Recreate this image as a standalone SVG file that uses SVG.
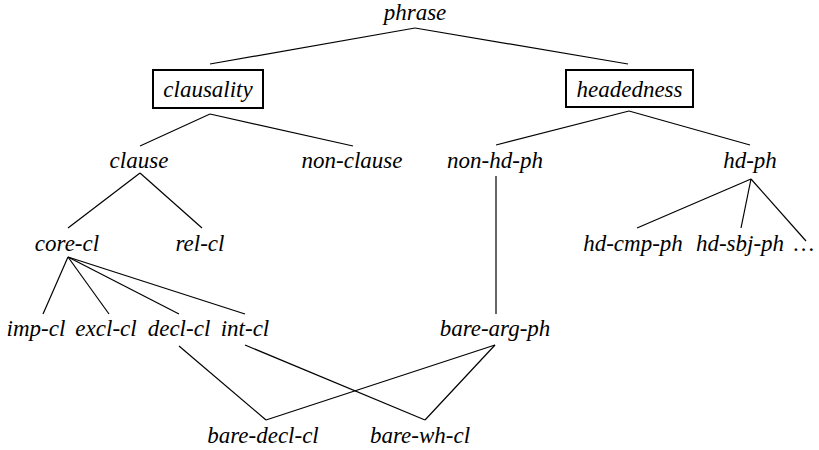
<svg xmlns="http://www.w3.org/2000/svg" width="819" height="450" viewBox="0 0 819 450">
<style>
text{font-family:'Liberation Serif','Times New Roman',serif;font-style:italic;font-size:23px;fill:#000;text-anchor:middle}
.box{fill:none;stroke:#000;stroke-width:2}
#edges line{stroke:#000;stroke-width:1.2}
</style>
<rect width="819" height="450" fill="#fff"/>
<g id="edges">
<line x1="415" y1="28" x2="210" y2="64"/>
<line x1="415" y1="28" x2="628" y2="64"/>
<line x1="210" y1="114" x2="140" y2="146"/>
<line x1="210" y1="114" x2="353" y2="146"/>
<line x1="629" y1="111" x2="496" y2="145"/>
<line x1="629" y1="111" x2="750" y2="145"/>
<line x1="140" y1="173" x2="68" y2="228"/>
<line x1="140" y1="173" x2="202" y2="228"/>
<line x1="751" y1="179" x2="637" y2="228"/>
<line x1="751" y1="179" x2="741" y2="228"/>
<line x1="751" y1="179" x2="806" y2="241"/>
<line x1="68" y1="257" x2="43" y2="314"/>
<line x1="68" y1="257" x2="109" y2="314"/>
<line x1="68" y1="257" x2="179" y2="314"/>
<line x1="68" y1="257" x2="245" y2="314"/>
<line x1="496" y1="176" x2="496" y2="314"/>
<line x1="179" y1="346" x2="266" y2="420"/>
<line x1="245" y1="345" x2="425" y2="420"/>
<line x1="495" y1="345" x2="266" y2="420"/>
<line x1="495" y1="345" x2="425" y2="420"/>
</g>
<g id="phrase"><text x="415" y="20">phrase</text></g>
<g id="clausality"><rect class="box" x="153" y="70" width="110" height="38"/><text x="208" y="97">clausality</text></g>
<g id="headedness"><rect class="box" x="566" y="70" width="127" height="37"/><text x="629.5" y="97">headedness</text></g>
<g id="clause"><text x="139" y="168">clause</text></g>
<g id="non-clause"><text x="352" y="168">non-clause</text></g>
<g id="non-hd-ph"><text x="495" y="168">non-hd-ph</text></g>
<g id="hd-ph"><text x="750" y="168">hd-ph</text></g>
<g id="core-cl"><text x="67" y="251">core-cl</text></g>
<g id="rel-cl"><text x="200" y="251">rel-cl</text></g>
<g id="hd-cmp-ph"><text x="633" y="251">hd-cmp-ph</text></g>
<g id="hd-sbj-ph"><text x="740" y="251">hd-sbj-ph</text></g>
<g id="ellipsis"><text x="804" y="251">…</text></g>
<g id="imp-cl"><text x="36" y="336">imp-cl</text></g>
<g id="excl-cl"><text x="106" y="336">excl-cl</text></g>
<g id="decl-cl"><text x="179" y="336">decl-cl</text></g>
<g id="int-cl"><text x="245" y="336">int-cl</text></g>
<g id="bare-arg-ph"><text x="495" y="336">bare-arg-ph</text></g>
<g id="bare-decl-cl"><text x="263" y="443">bare-decl-cl</text></g>
<g id="bare-wh-cl"><text x="420" y="443">bare-wh-cl</text></g>
</svg>
